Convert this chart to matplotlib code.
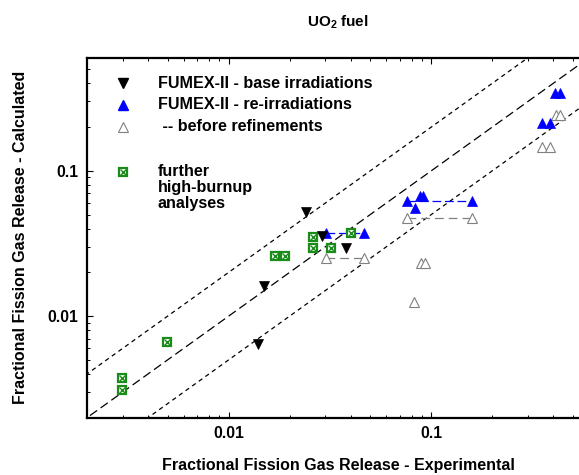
import matplotlib
matplotlib.use("Agg")
import matplotlib.pyplot as plt
import numpy as np

plt.rcParams['font.family'] = ['Liberation Sans', 'DejaVu Sans']
plt.rcParams['font.weight'] = 'bold'
plt.rcParams['axes.labelweight'] = 'bold'
plt.rcParams['mathtext.fontset'] = 'custom'
plt.rcParams['mathtext.rm'] = 'Liberation Sans:bold'
plt.rcParams['mathtext.it'] = 'Liberation Sans:bold'
plt.rcParams['mathtext.bf'] = 'Liberation Sans:bold'

# FUMEX-II base irradiations (measured, calculated)
base_meas = [0.0240, 0.0289, 0.0379, 0.0150, 0.0140]
base_calc = [0.0518, 0.0357, 0.0296, 0.0162, 0.0064]

# FUMEX-II re-irradiations
reirr_meas = [0.0301, 0.0468, 0.0755, 0.0827, 0.0883, 0.0909, 0.1588,
              0.351, 0.384, 0.408, 0.431]
reirr_calc = [0.0374, 0.0374, 0.0621, 0.0551, 0.0673, 0.0673, 0.0621,
              0.212, 0.212, 0.341, 0.341]

# same re-irradiations before the model refinements
old_meas = [0.0301, 0.0468, 0.0755, 0.1588, 0.0885, 0.0927, 0.0824,
            0.351, 0.384, 0.411, 0.434]
old_calc = [0.0252, 0.0252, 0.0470, 0.0470, 0.0231, 0.0231, 0.0125,
            0.146, 0.146, 0.2415, 0.2415]

# ranges joined by dashed lines (x pair, y value)
reirr_ranges = [((0.0301, 0.0468), 0.0374), ((0.0755, 0.1588), 0.0621)]
old_ranges = [((0.0301, 0.0468), 0.0252), ((0.0755, 0.1588), 0.0470)]

# further high-burnup analyses
hb_meas = [0.0260, 0.0260, 0.0170, 0.0189, 0.0401, 0.0319, 0.00496, 0.00299, 0.00299]
hb_calc = [0.0348, 0.0292, 0.0259, 0.0259, 0.0371, 0.0296, 0.00662, 0.00374, 0.00308]

GREEN = '#1a8c1a'
BLUE = '#0000ff'
GREY = '#808080'

fig = plt.figure(figsize=(5.79, 4.75), dpi=100)
# axes runs a little past the right edge of the figure
ax = fig.add_axes([87 / 579, 1 - 417.7 / 475, 502 / 579, 360 / 475])
ax.set_xscale('log')
ax.set_yscale('log')
ax.set_xlim(0.002, 0.6)
ax.set_ylim(0.002, 0.6)

# 1:1 line and factor-of-two band
xx = np.array([0.001, 1.0])
ax.plot(xx, xx, color='black', lw=0.9, dashes=(7, 3.5), zorder=1)
for f in (2.0, 0.5):
    ax.plot(xx, xx * f, color='black', lw=0.9, dashes=(3.5, 3), zorder=1)

for (x0, x1), y in reirr_ranges:
    ax.plot([x0, x1], [y, y], color=BLUE, lw=0.9, dashes=(7, 3), zorder=2)
for (x0, x1), y in old_ranges:
    ax.plot([x0, x1], [y, y], color=GREY, lw=0.9, dashes=(7, 4), zorder=2)

MS = 6.5
ax.plot(old_meas, old_calc, ls='none', marker='^', ms=MS, mfc='white',
        mec=GREY, mew=0.8, zorder=3)
ax.plot(reirr_meas, reirr_calc, ls='none', marker='^', ms=MS, mfc=BLUE,
        mec=BLUE, mew=0.5, zorder=4)
ax.plot(hb_meas, hb_calc, ls='none', marker='s', ms=6, mfc='white',
        mec=GREEN, mew=1.6, zorder=5)
ax.plot(hb_meas, hb_calc, ls='none', marker='x', ms=4, mec=GREEN, mew=1.0, zorder=5)
ax.plot(base_meas, base_calc, ls='none', marker='v', ms=MS, mfc='black',
        mec='black', mew=0.5, zorder=6)

# hand-made key
kx, tx = 0.071, 0.141
rows = [0.929, 0.869, 0.808, 0.683]
tr = ax.transAxes
ax.plot([kx], [rows[0]], transform=tr, marker='v', ms=MS, color='black', ls='none')
ax.plot([kx], [rows[1]], transform=tr, marker='^', ms=MS, color=BLUE, ls='none')
ax.plot([kx], [rows[2]], transform=tr, marker='^', ms=MS, mfc='white', mec=GREY,
        mew=0.8, ls='none')
ax.plot([kx], [rows[3]], transform=tr, marker='s', ms=6, mfc='white', mec=GREEN,
        mew=1.6, ls='none')
ax.plot([kx], [rows[3]], transform=tr, marker='x', ms=4, mec=GREEN, mew=1.0, ls='none')
fs = 11.6
ax.text(tx, rows[0], 'FUMEX-II - base irradiations', transform=tr, va='center', fontsize=fs)
ax.text(tx, rows[1], 'FUMEX-II - re-irradiations', transform=tr, va='center', fontsize=fs)
ax.text(tx, rows[2], ' -- before refinements', transform=tr, va='center', fontsize=fs)
ax.text(tx, rows[3] + 0.023, 'further\nhigh-burnup\nanalyses', transform=tr, va='top',
        fontsize=fs, linespacing=1.1)

for s in ax.spines.values():
    s.set_linewidth(1.6)
ax.tick_params(which='both', direction='in', top=True, right=True, labelsize=11.3, pad=6)
ax.tick_params(which='major', length=4, width=0.8)
ax.tick_params(which='minor', length=2.5, width=0.7)
ax.set_xticks([0.01, 0.1])
ax.set_xticklabels(['0.01', '0.1'])
ax.set_yticks([0.01, 0.1])
ax.set_yticklabels(['0.01', '0.1'])

ax.set_xlabel('Fractional Fission Gas Release - Experimental', fontsize=11.5)
ax.xaxis.set_label_coords(0.5, -0.112)
ax.set_ylabel('Fractional Fission Gas Release - Calculated', fontsize=11.5)
ax.yaxis.set_label_coords(-0.118, 0.5)

fig.text(338 / 579, 1 - 22 / 475, 'UO$_2$ fuel', ha='center', va='center', fontsize=11)

fig.savefig('out.png', dpi=100)
